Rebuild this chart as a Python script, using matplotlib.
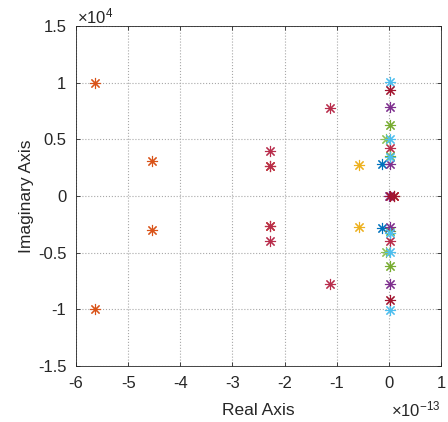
import matplotlib.pyplot as plt
from matplotlib.ticker import FuncFormatter

# pole locations, real part in units of 1e-13, imaginary part in units of 1e4
orange_re = [-5.63, -5.63, -4.55, -4.55, -2.27, -2.27, 0.10]
orange_im = [1.0, -1.0, 0.31, -0.30, 0.265, -0.265, 0.0]

crimson_re = [-2.27, -2.27, -2.27, -2.27, -1.13, -1.13, 0.02, 0.02]
crimson_im = [0.395, -0.395, 0.265, -0.265, 0.78, -0.78, 0.42, -0.40]

yellow_re = [-0.57, -0.57]
yellow_im = [0.27, -0.27]

blue_re = [-0.14, -0.14]
blue_im = [0.285, -0.28]

lgreen_re = [-0.06, -0.06]
lgreen_im = [0.50, -0.49]

green_re = [0.02, 0.02, 0.02, 0.02]
green_im = [0.63, -0.62, 0.355, -0.31]

purple_re = [0.02, 0.02, 0.02, 0.02, 0.0]
purple_im = [0.785, -0.78, 0.285, -0.275, 0.0]

cyan_re = [0.02, 0.02, 0.02, 0.02, 0.02, 0.02]
cyan_im = [1.01, -1.01, 0.50, -0.49, 0.34, -0.33]

dred_re = [0.02, 0.02, 0.02, 0.10]
dred_im = [0.935, -0.92, 0.0, 0.0]

series = [
    (orange_re, orange_im, '#D95319'),
    (crimson_re, crimson_im, '#B82D4C'),
    (yellow_re, yellow_im, '#EDB120'),
    (blue_re, blue_im, '#0072BD'),
    (lgreen_re, lgreen_im, '#8CC152'),
    (green_re, green_im, '#77AC30'),
    (purple_re, purple_im, '#7E2F8E'),
    (cyan_re, cyan_im, '#4DBEEE'),
    (dred_re, dred_im, '#A2142F'),
]

plt.rcParams['font.family'] = ['Liberation Sans', 'DejaVu Sans']
plt.rcParams['axes.unicode_minus'] = False
plt.rcParams['mathtext.fontset'] = 'custom'
plt.rcParams['mathtext.rm'] = 'Liberation Sans'
plt.rcParams['mathtext.it'] = 'Liberation Sans'
axcol = '#262626'

fig = plt.figure(figsize=(4.48, 4.22), dpi=100)
ax = fig.add_axes([76/448, 56/422, 365/448, 340/422])

for re, im, c in series:
    ax.plot(re, im, linestyle='none', marker=(8, 2, 0), markersize=8,
            markeredgewidth=0.8, color=c)

ax.set_xlim(-6, 1)
ax.set_ylim(-1.5, 1.5)
ax.set_xticks(range(-6, 2))
ax.set_yticks([-1.5, -1, -0.5, 0, 0.5, 1, 1.5])
ax.yaxis.set_major_formatter(FuncFormatter(lambda v, p: ('%g' % v)))

ax.grid(True, linestyle=':', color='#a8a8a8', linewidth=0.8)
ax.tick_params(direction='in', top=True, right=True, length=3, width=0.6,
               colors=axcol, labelsize=12, pad=7)
for s in ax.spines.values():
    s.set_color(axcol)
    s.set_linewidth(0.6)

ax.set_xlabel('Real Axis', fontsize=12.5, color=axcol, labelpad=9)
ax.set_ylabel('Imaginary Axis', fontsize=12.5, color=axcol, labelpad=3)

ax.text(0.003, 1.0, r'$\times$10$^{4}$', transform=ax.transAxes,
        fontsize=12, color=axcol, ha='left', va='bottom')
ax.text(1.0, -0.098, r'$\times$10$^{-13}$', transform=ax.transAxes,
        fontsize=12, color=axcol, ha='right', va='top')

fig.savefig('out.png', dpi=100)
